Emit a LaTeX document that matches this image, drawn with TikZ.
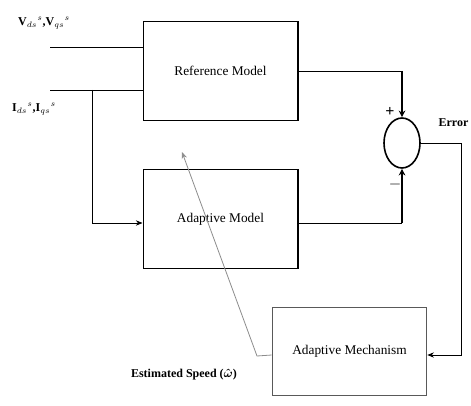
\documentclass[tikz,border=0pt]{standalone}
\usepackage{amsmath}
\usepackage{fontspec}
\setmainfont{Liberation Serif}
\usetikzlibrary{arrows.meta, positioning, shapes.geometric}

\begin{document}
\begin{tikzpicture}[
    x=0.75pt, y=-0.75pt,
    every node/.style={font=\fontsize{10}{12}\selectfont},
    box/.style={draw, line width=1pt, minimum width=116pt, minimum height=74pt, align=center, inner sep=0pt},
    arrow/.style={-{Stealth[length=5pt, width=4pt]}, line width=0.6pt},
    sumarrow/.style={-{Stealth[length=5pt, width=5pt]}, line width=1.6pt},
    lbl/.style={font=\fontsize{9}{11}\selectfont\bfseries, inner sep=1pt},
    sign/.style={font=\fontsize{12}{12}\selectfont\bfseries, inner sep=0pt}
]
\useasboundingbox (0,0) rectangle (471,406);

% Reference Model
\node[box] (refm) at (220.5,71) {Reference Model};

% Adaptive Model
\node[box, below=36pt of refm] (adpm) {Adaptive Model};

% Adaptive Mechanism
\node[box, draw=black!65, line width=0.7pt, minimum height=66pt] (mech) at (349.5,351) {Adaptive Mechanism};

% Sommateur
\node[ellipse, draw, line width=1.2pt, minimum width=27pt, minimum height=37.5pt] (sum) at (402,143) {};

% Entrees
\coordinate (vin) at (50,47);
\coordinate (iin) at (50,90);
\coordinate (ibr) at (92,90);
\node[lbl] (vlab) at (44,23) {V$_{ds}$$^{s}$,V$_{qs}$$^{s}$};
\node[lbl] (ilab) at (34,109) {I$_{ds}$$^{s}$,I$_{qs}$$^{s}$};

\draw[line width=0.6pt] (vin) -- (vin -| refm.west);
\draw[line width=0.6pt] (iin) -- (iin -| refm.west);
\draw[arrow] (ibr) -- (92,223) -- (adpm.west |- 0,223);

% Sorties vers le sommateur
\draw[line width=0.6pt] (refm.east) -- (sum.north |- refm.east);
\draw[sumarrow] (sum.north |- refm.east) -- (sum.north);
\draw[line width=0.6pt] (adpm.east |- 0,223) -- (sum.south |- 0,223);
\draw[sumarrow] (sum.south |- 0,223) -- (sum.south);
\node[sign] (plus) at (390,112) {+};
\node[sign] (minus) at (395,185) {$-$};

% Erreur
\node[lbl, anchor=west] (err) at (437,123) {Error};
\draw[arrow] (sum.east) -- (461,143) -- (461,355) -- (mech.east |- 0,355);

% Vitesse estimee
\draw[arrow, draw=black!45] (mech.west |- 0,355) -- (257,356) -- (182,152);
\node[lbl] (speed) at (184,375) {Estimated Speed ($\boldsymbol{\hat{\omega}}$)};

\end{tikzpicture}
\end{document}
